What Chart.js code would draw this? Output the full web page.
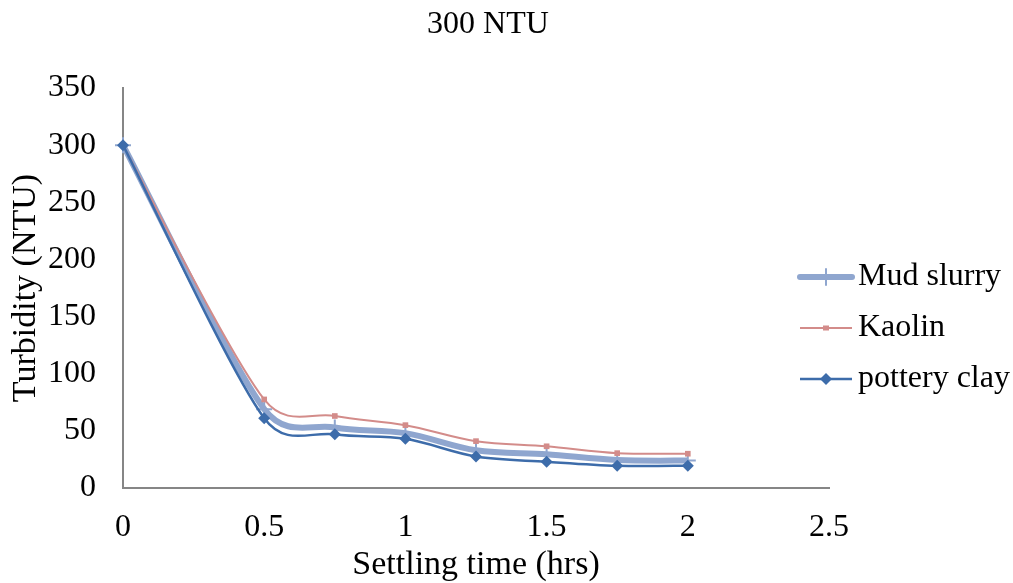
<!DOCTYPE html>
<html>
<head>
<meta charset="utf-8">
<title>300 NTU</title>
<script src="https://cdn.jsdelivr.net/npm/chart.js@4/dist/chart.umd.min.js"></script>
<style>
    html, body { margin: 0; padding: 0; background: #ffffff; }
    #wrap { width: 1013px; height: 583px; }
</style>
</head>
<body>
<div id="wrap"><canvas id="turbidityChart" width="1013" height="583"></canvas></div>
<script>
// Settling time (hrs) and turbidity readings (NTU)
const settlingTimes = [0, 0.5, 0.75, 1, 1.25, 1.5, 1.75, 2];
const mudSlurry = [300, 69, 53, 48, 33, 29.5, 24.5, 24];
const kaolin = [300, 77.5, 63, 55, 41, 36.5, 30.5, 30];
const potteryClay = [300, 61, 47, 43, 27.5, 23, 19.5, 19.5];
const seriesNames = ['Mud slurry', 'Kaolin', 'pottery clay'];

const FONT = "'Liberation Serif', 'Times New Roman', serif";

// Pair each value with its time for the linear x axis
function toPoints(values) {
    return values.map((v, i) => ({ x: settlingTimes[i], y: v }));
}

// Excel-like smoothing: Catmull-Rom control points (1/6 of neighbour span),
// each handle capped to a share of the segment it bends into
const excelSmooth = {
    id: 'excelSmooth',
    beforeDatasetsDraw(chart) {
        const cap = 0.5;
        chart.data.datasets.forEach((ds, di) => {
            const meta = chart.getDatasetMeta(di);
            const pts = meta.data;
            const n = pts.length;
            for (let i = 0; i < n; i++) {
                const p = pts[i];
                const prev = pts[Math.max(i - 1, 0)];
                const next = pts[Math.min(i + 1, n - 1)];
                const dx = (next.x - prev.x) / 6;
                const dy = (next.y - prev.y) / 6;
                const len = Math.hypot(dx, dy) || 1;
                const segPrev = Math.hypot(p.x - prev.x, p.y - prev.y);
                const segNext = Math.hypot(next.x - p.x, next.y - p.y);
                const kPrev = Math.min(1, cap * segPrev / len);
                const kNext = Math.min(1, cap * segNext / len);
                p.cp1x = p.x - dx * kPrev;
                p.cp1y = p.y - dy * kPrev;
                p.cp2x = p.x + dx * kNext;
                p.cp2y = p.y + dy * kNext;
            }
            if (meta.dataset) meta.dataset._pointsUpdated = true;
        });
    }
};

// Title and legend drawn by hand, Excel style
const excelDecor = {
    id: 'excelDecor',
    afterDraw(chart) {
        const ctx = chart.ctx;
        ctx.save();
        ctx.fillStyle = '#000000';
        ctx.font = '32px ' + FONT;
        ctx.textAlign = 'center';
        ctx.textBaseline = 'middle';
        ctx.fillText('300 NTU', 488, 25);

        const rows = [277, 328, 379];
        chart.data.datasets.forEach((ds, i) => {
            const y = rows[i];
            ctx.strokeStyle = ds.borderColor;
            ctx.lineWidth = ds.borderWidth;
            ctx.lineCap = i === 0 ? 'round' : 'butt';
            ctx.beginPath();
            ctx.moveTo(800, y);
            ctx.lineTo(852, y);
            ctx.stroke();

            // marker
            const mx = 826;
            ctx.fillStyle = ds.pointBackgroundColor;
            ctx.strokeStyle = ds.pointBorderColor;
            ctx.lineWidth = ds.pointBorderWidth;
            ctx.beginPath();
            if (ds.pointStyle === 'cross') {
                ctx.moveTo(mx, y - ds.pointRadius);
                ctx.lineTo(mx, y + ds.pointRadius);
                ctx.stroke();
            } else if (ds.pointStyle === 'rect') {
                ctx.fillRect(mx - 3, y - 2.5, 6, 5);
            } else {
                const r = ds.pointRadius;
                ctx.moveTo(mx, y - r);
                ctx.lineTo(mx + r, y);
                ctx.lineTo(mx, y + r);
                ctx.lineTo(mx - r, y);
                ctx.closePath();
                ctx.fill();
            }

            ctx.fillStyle = '#000000';
            ctx.font = '32px ' + FONT;
            ctx.textAlign = 'left';
            ctx.textBaseline = 'middle';
            ctx.fillText(seriesNames[i], 858, y);
        });
        ctx.restore();
    }
};

const ctx = document.getElementById('turbidityChart').getContext('2d');
const turbidityChart = new Chart(ctx, {
    type: 'line',
    data: {
        datasets: [
            {
                label: seriesNames[0],
                data: toPoints(mudSlurry),
                borderColor: '#8FA6CF',
                borderWidth: 6,
                tension: 0.4,
                pointStyle: 'cross',
                pointRadius: 8,
                pointBorderWidth: 2,
                pointBorderColor: '#8FA6CF',
                pointBackgroundColor: '#8FA6CF',
                order: 2,
                clip: false
            },
            {
                label: seriesNames[1],
                data: toPoints(kaolin),
                borderColor: '#D38C8A',
                borderWidth: 2,
                tension: 0.4,
                pointStyle: 'rect',
                pointRadius: 4,
                pointBorderWidth: 0,
                pointBorderColor: '#D38C8A',
                pointBackgroundColor: '#D38C8A',
                order: 1,
                clip: false
            },
            {
                label: seriesNames[2],
                data: toPoints(potteryClay),
                borderColor: '#3D6CAA',
                borderWidth: 2.5,
                tension: 0.4,
                pointStyle: 'rectRot',
                pointRadius: 6,
                pointBorderWidth: 0,
                pointBorderColor: '#3D6CAA',
                pointBackgroundColor: '#3D6CAA',
                order: 0,
                clip: false
            }
        ]
    },
    options: {
        responsive: false,
        animation: false,
        layout: {
            padding: { top: 88, right: 184, left: 0, bottom: 0 }
        },
        plugins: {
            legend: { display: false },
            title: { display: false },
            tooltip: { enabled: false }
        },
        scales: {
            x: {
                type: 'linear',
                min: 0,
                max: 2.5,
                grid: { display: false },
                border: { display: true, color: '#868686', width: 2 },
                ticks: {
                    stepSize: 0.5,
                    color: '#000000',
                    padding: 12,
                    maxRotation: 0,
                    font: { family: FONT, size: 32 },
                    callback: (value) => String(value)
                },
                title: {
                    display: true,
                    text: 'Settling time (hrs)',
                    color: '#000000',
                    padding: { top: 0, bottom: -2 },
                    font: { family: FONT, size: 34 }
                },
                afterFit(scale) { scale.height = 95; }
            },
            y: {
                min: 0,
                max: 350,
                grid: { display: false },
                border: { display: true, color: '#868686', width: 2 },
                ticks: {
                    stepSize: 50,
                    color: '#000000',
                    padding: 19,
                    font: { family: FONT, size: 32 }
                },
                title: {
                    display: true,
                    text: 'Turbidity (NTU)',
                    color: '#000000',
                    padding: { top: 6, bottom: 0 },
                    font: { family: FONT, size: 34 }
                },
                afterFit(scale) { scale.width = 123; }
            }
        }
    },
    plugins: [excelSmooth, excelDecor]
});
</script>
</body>
</html>
